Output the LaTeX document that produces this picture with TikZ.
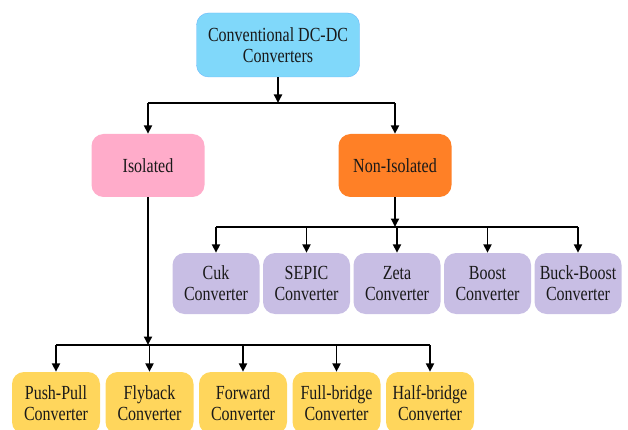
\documentclass[tikz,border=0pt]{standalone}
\usepackage{fontspec}
\setmainfont{Liberation Serif}[FakeStretch=0.8]
\usetikzlibrary{positioning, arrows.meta}
\definecolor{convblue}{RGB}{128,216,250}
\definecolor{isopink}{RGB}{255,172,202}
\definecolor{nonorange}{RGB}{255,128,38}
\definecolor{nonlilac}{RGB}{200,190,228}
\definecolor{isoyellow}{RGB}{255,214,92}
\tikzset{
	arrow/.style={line width=1.8pt, -{Triangle[length=8.5pt, width=8pt]}},
	bus/.style={line width=1.8pt},
	box/.style={rounded corners=12pt, align=center, inner sep=2pt, text=black!90,
		font=\fontsize{20}{21}\selectfont},
	mainbox/.style={box, fill=convblue, draw=convblue!85!blue, minimum width=163pt, minimum height=64pt},
	groupbox/.style={box, minimum width=113pt, minimum height=63pt},
	leafbox/.style={box, minimum width=87pt, minimum height=61pt},
}

\begin{document}
\begin{tikzpicture}[x=1pt, y=1pt]
			\clip (0,0) rectangle (628,-430);

			\node[mainbox] (conv) at (278,-45) {Conventional DC-DC\\Converters};
			\node[groupbox, fill=isopink] (iso) at (148,-165.5) {Isolated};
			\node[groupbox, fill=nonorange] (noniso) at (395,-165.5) {Non-Isolated};

			% non-isolated row
			\begin{scope}[node distance=90.5pt]
			\node[leafbox, fill=nonlilac] (cuk) at (216,-283.5) {Cuk\\Converter};
			\node[leafbox, fill=nonlilac, right of=cuk] (sepic) {SEPIC\\Converter};
			\node[leafbox, fill=nonlilac, right of=sepic] (zeta) {Zeta\\Converter};
			\node[leafbox, fill=nonlilac, right of=zeta] (boost) {Boost\\Converter};
			\node[leafbox, fill=nonlilac, right of=boost] (buckboost) {Buck-Boost\\Converter};
			\end{scope}

			% isolated row
			\begin{scope}[node distance=93.5pt]
			\node[leafbox, fill=isoyellow, minimum width=88pt, minimum height=62pt] (pushpull) at (56,-403) {Push-Pull\\Converter};
			\node[leafbox, fill=isoyellow, minimum width=88pt, minimum height=62pt, right of=pushpull] (flyback) {Flyback\\Converter};
			\node[leafbox, fill=isoyellow, minimum width=88pt, minimum height=62pt, right of=flyback] (forward) {Forward\\Converter};
			\node[leafbox, fill=isoyellow, minimum width=88pt, minimum height=62pt, right of=forward] (fullbridge) {Full-bridge\\Converter};
			\node[leafbox, fill=isoyellow, minimum width=88pt, minimum height=62pt, right of=fullbridge] (halfbridge) {Half-bridge\\Converter};
			\end{scope}

			\coordinate (topbus) at (0,-103);
			\coordinate (nonbus) at (0,-227);
			\coordinate (isobus) at (0,-345);

			\draw[arrow] (conv) -- (conv |- topbus);
			\draw[bus] (iso |- topbus) -- (noniso |- topbus);
			\draw[arrow] (iso |- topbus) -- (iso);
			\draw[arrow] (noniso |- topbus) -- (noniso);

			\draw[arrow] (noniso) -- (noniso |- nonbus);
			\draw[bus] (cuk |- nonbus) -- (buckboost |- nonbus);
			\foreach \n in {cuk, sepic, zeta, boost, buckboost}
				\draw[arrow] (\n |- nonbus) -- (\n);

			\draw[arrow] (iso) -- (iso |- isobus);
			\draw[bus] (pushpull |- isobus) -- (halfbridge |- isobus);
			\foreach \n in {pushpull, flyback, forward, fullbridge, halfbridge}
				\draw[arrow] (\n |- isobus) -- (\n);
		\end{tikzpicture}
\end{document}
